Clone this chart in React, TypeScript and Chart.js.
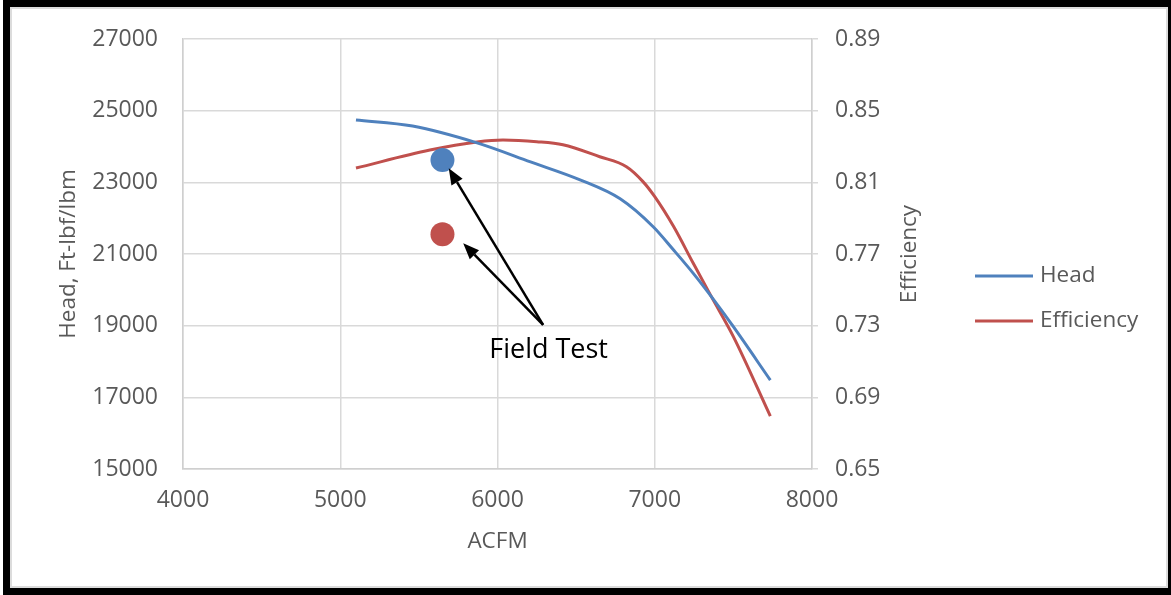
import React, { useEffect, useRef } from "react";
import { Chart, registerables } from "chart.js";

Chart.register(...registerables);

// ---- Data ----
const headAcfm = [5100, 5460, 5870, 6210, 6525, 6780, 6990, 7120, 7245, 7360, 7500, 7735];
const headValues = [24740, 24570, 24100, 23570, 23070, 22540, 21760, 21110, 20460, 19810, 18970, 17480];

const effAcfm = [5100, 5570, 5870, 6035, 6250, 6416, 6650, 6820, 6925, 7000, 7120, 7245, 7360, 7500, 7735];
const effValues = [0.818, 0.828, 0.8325, 0.8336, 0.8327, 0.831, 0.8243, 0.8187, 0.8104, 0.802, 0.7853, 0.7648, 0.7462, 0.7239, 0.6795];

const fieldTestAcfm = [5650];
const fieldTestHead = [23620];
const fieldTestEff = [0.781];

const xTickValues = [4000, 5000, 6000, 7000, 8000];
const headTickValues = [15000, 17000, 19000, 21000, 23000, 25000, 27000];
const effTickValues = [0.65, 0.69, 0.73, 0.77, 0.81, 0.85, 0.89];

const seriesLabels = ["Head", "Efficiency"];
const seriesColors = ["#4f81bd", "#c0504d"];

const xTitle = "ACFM";
const yTitle = "Head, Ft-lbf/lbm";
const y1Title = "Efficiency";

// annotation arrows (in data units: ACFM / Head)
const arrowTailAcfm = [6290, 6290];
const arrowTailHead = [19020, 19020];
const arrowTipAcfm = [5690, 5782];
const arrowTipHead = [23390, 21300];
const annotationText = "Field Test";
const annotationAcfm = 6325;
const annotationHead = 18300;

const FONT = "'Open Sans', 'Noto Sans', sans-serif";
const TEXT_COLOR = "#595959";
const GRID_COLOR = "#d9d9d9";
const TICK_SIZE = 23;
const TITLE_SIZE = 22.5;

const arrowPlugin = {
  id: "arrowPlugin",
  afterDatasetsDraw(chart: any) {
    const { ctx } = chart;
    const xs = chart.scales.x;
    const ys = chart.scales.y;
    ctx.save();
    ctx.strokeStyle = "#000";
    ctx.fillStyle = "#000";
    ctx.lineWidth = 2.5;
    for (let i = 0; i < arrowTailAcfm.length; i++) {
      const x0 = xs.getPixelForValue(arrowTailAcfm[i]);
      const y0 = ys.getPixelForValue(arrowTailHead[i]);
      const x1 = xs.getPixelForValue(arrowTipAcfm[i]);
      const y1 = ys.getPixelForValue(arrowTipHead[i]);
      const ang = Math.atan2(y1 - y0, x1 - x0);
      const hl = 16;
      const hw = 6.5;
      const bx = x1 - hl * Math.cos(ang);
      const by = y1 - hl * Math.sin(ang);
      ctx.beginPath();
      ctx.moveTo(x0, y0);
      ctx.lineTo(bx, by);
      ctx.stroke();
      ctx.beginPath();
      ctx.moveTo(x1, y1);
      ctx.lineTo(bx + hw * Math.sin(ang), by - hw * Math.cos(ang));
      ctx.lineTo(bx - hw * Math.sin(ang), by + hw * Math.cos(ang));
      ctx.closePath();
      ctx.fill();
    }
    ctx.font = `27px ${FONT}`;
    ctx.textAlign = "center";
    ctx.textBaseline = "middle";
    ctx.fillText(annotationText, xs.getPixelForValue(annotationAcfm), ys.getPixelForValue(annotationHead));
    ctx.restore();
  },
};

const legendPlugin = {
  id: "customLegend",
  afterDraw(chart: any) {
    const { ctx, chartArea } = chart;
    ctx.save();
    // right axis title, reading bottom-to-top
    ctx.font = `${TITLE_SIZE}px ${FONT}`;
    ctx.fillStyle = TEXT_COLOR;
    ctx.textAlign = "center";
    ctx.textBaseline = "middle";
    ctx.translate(910, (chartArea.top + chartArea.bottom) / 2);
    ctx.rotate(-Math.PI / 2);
    ctx.fillText(y1Title, 0, 0);
    ctx.restore();

    ctx.save();
    ctx.font = `${TITLE_SIZE}px ${FONT}`;
    ctx.textAlign = "left";
    ctx.textBaseline = "middle";
    const startY = 276;
    const gap = 45;
    seriesLabels.forEach((label, i) => {
      const y = startY + i * gap;
      ctx.strokeStyle = seriesColors[i];
      ctx.lineWidth = 3;
      ctx.beginPath();
      ctx.moveTo(975, y);
      ctx.lineTo(1033, y);
      ctx.stroke();
      ctx.fillStyle = TEXT_COLOR;
      ctx.fillText(label, 1040, y);
    });
    ctx.restore();
  },
};

export default function App() {
  const canvasRef = useRef<HTMLCanvasElement | null>(null);

  useEffect(() => {
    if (!canvasRef.current) return;
    const chart = new Chart(canvasRef.current, {
      type: "line",
      data: {
        datasets: [
          {
            label: "Field Test Head",
            data: fieldTestAcfm.map((x, i) => ({ x, y: fieldTestHead[i] })),
            showLine: false,
            pointRadius: 12,
            pointBackgroundColor: seriesColors[0],
            pointBorderWidth: 0,
            borderColor: seriesColors[0],
            yAxisID: "y",
          },
          {
            label: "Field Test Efficiency",
            data: fieldTestAcfm.map((x, i) => ({ x, y: fieldTestEff[i] })),
            showLine: false,
            pointRadius: 12,
            pointBackgroundColor: seriesColors[1],
            pointBorderWidth: 0,
            borderColor: seriesColors[1],
            yAxisID: "y1",
          },
          {
            label: seriesLabels[0],
            data: headAcfm.map((x, i) => ({ x, y: headValues[i] })),
            borderColor: seriesColors[0],
            borderWidth: 3,
            pointRadius: 0,
            cubicInterpolationMode: "monotone",
            fill: false,
            yAxisID: "y",
          },
          {
            label: seriesLabels[1],
            data: effAcfm.map((x, i) => ({ x, y: effValues[i] })),
            borderColor: seriesColors[1],
            borderWidth: 3,
            pointRadius: 0,
            cubicInterpolationMode: "monotone",
            fill: false,
            yAxisID: "y1",
          },
        ],
      },
      options: {
        animation: false,
        responsive: false,
        devicePixelRatio: 1,
        layout: { padding: { top: 39, left: 0, right: 239, bottom: 0 } },
        plugins: {
          legend: { display: false },
          tooltip: { enabled: false },
        },
        scales: {
          x: {
            type: "linear",
            position: "bottom",
            min: 4000,
            max: 8000,
            afterBuildTicks: (s: any) => {
              s.ticks = xTickValues.map((v) => ({ value: v }));
            },
            afterFit: (s: any) => {
              s.height = 126;
            },
            grid: { color: GRID_COLOR, lineWidth: 1.5, drawTicks: false },
            border: { color: "#cfcfcf", width: 1.5 },
            ticks: {
              color: TEXT_COLOR,
              font: { size: TICK_SIZE, family: FONT },
              padding: 18,
              maxRotation: 0,
              callback: (v: any) => String(v),
            },
            title: {
              display: true,
              text: xTitle,
              color: TEXT_COLOR,
              font: { size: TITLE_SIZE, family: FONT },
              padding: { top: 0, bottom: 40 },
            },
          },
          y: {
            type: "linear",
            position: "left",
            min: 15000,
            max: 27000,
            afterBuildTicks: (s: any) => {
              s.ticks = headTickValues.map((v) => ({ value: v }));
            },
            afterFit: (s: any) => {
              s.width = 183;
            },
            grid: { color: GRID_COLOR, lineWidth: 1.5, drawTicks: false },
            border: { color: "#cfcfcf", width: 1.5 },
            ticks: {
              color: TEXT_COLOR,
              font: { size: TICK_SIZE, family: FONT },
              padding: 25,
              callback: (v: any) => String(v),
            },
            title: {
              display: true,
              text: yTitle,
              color: TEXT_COLOR,
              font: { size: TITLE_SIZE, family: FONT },
              padding: { top: 55, bottom: 0 },
            },
          },
          y1: {
            type: "linear",
            position: "right",
            min: 0.65,
            max: 0.89,
            afterBuildTicks: (s: any) => {
              s.ticks = effTickValues.map((v) => ({ value: v }));
            },
            afterFit: (s: any) => {
              s.width = 120;
            },
            grid: { drawOnChartArea: false, drawTicks: true, tickLength: 6, color: GRID_COLOR, lineWidth: 1.5 },
            border: { color: "#cfcfcf", width: 1.5 },
            ticks: {
              color: TEXT_COLOR,
              font: { size: TICK_SIZE, family: FONT },
              padding: 17,
              callback: (v: any) => Number(v).toFixed(2),
            },
            title: { display: false },
          },
        },
      } as any,
      plugins: [arrowPlugin, legendPlugin],
    });
    return () => chart.destroy();
  }, []);

  return (
    <div style={{ position: "absolute", left: 0, top: 0, width: 1171, height: 595, background: "#fff" }}>
      <canvas
        ref={canvasRef}
        width={1171}
        height={595}
        style={{ position: "absolute", left: 0, top: 0, width: 1171, height: 595, display: "block" }}
      />
      <div
        style={{
          position: "absolute",
          left: 3,
          top: 0,
          width: 1168,
          height: 595,
          boxSizing: "border-box",
          borderStyle: "solid",
          borderColor: "#000",
          borderWidth: "7px 3px 7px 7px",
          pointerEvents: "none",
        }}
      >
        <div
          style={{
            width: "100%",
            height: "100%",
            boxSizing: "border-box",
            border: "2px solid #dcdcdc",
          }}
        />
      </div>
    </div>
  );
}
